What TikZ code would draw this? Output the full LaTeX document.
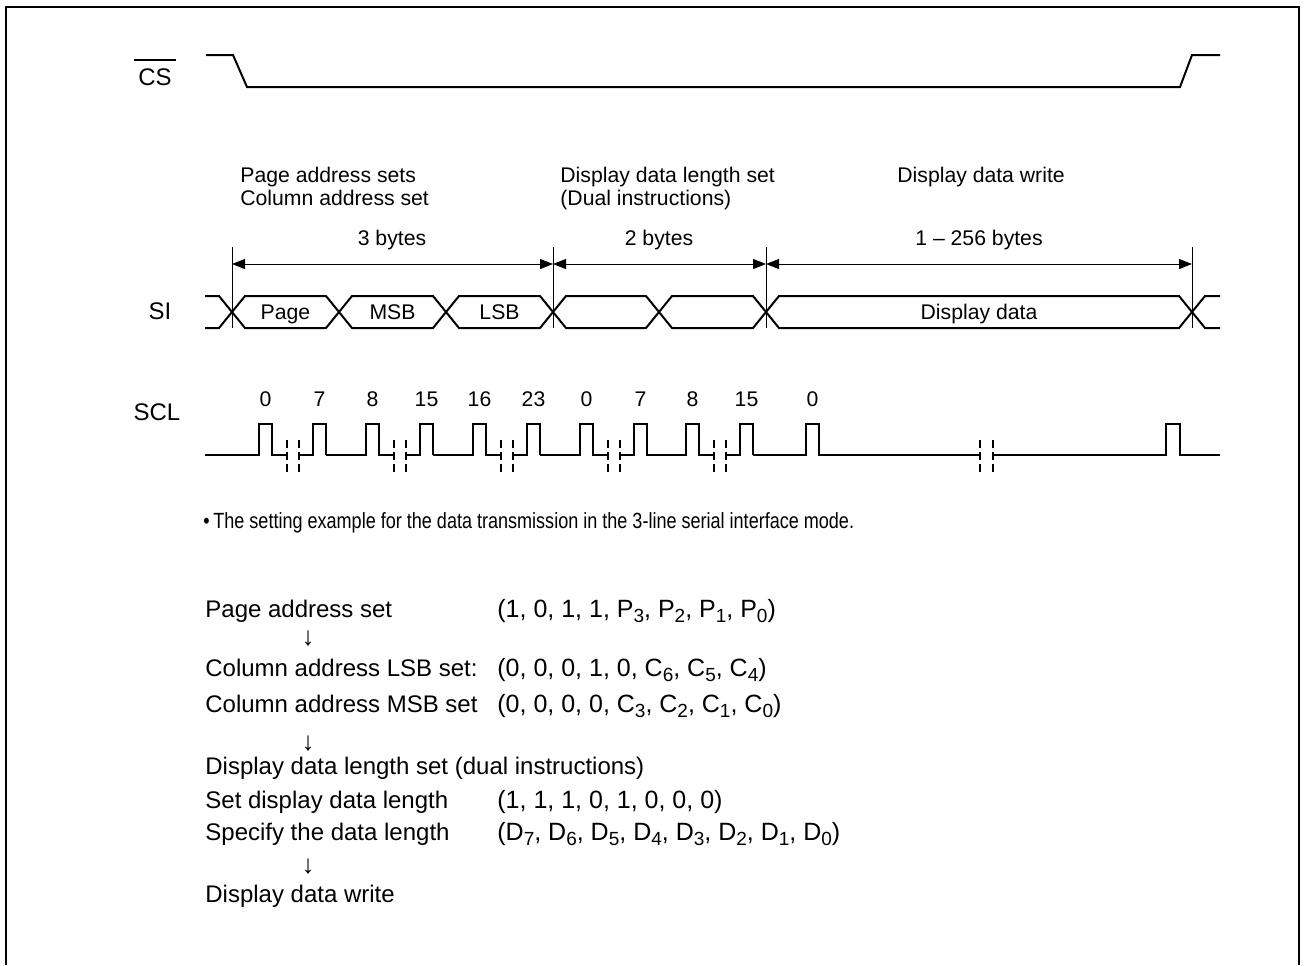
\documentclass[tikz,border=0pt]{standalone}
\usepackage{fontspec}
\setmainfont{Liberation Sans}
\newfontfamily\condfont[FakeStretch = 0.82]{Liberation Sans}
\newcommand{\sub}[1]{\raisebox{-0.45ex}{\fontsize{9.5}{9.5}\selectfont #1}}
\usetikzlibrary{arrows.meta}

\begin{document}
\begin{tikzpicture}[x = 0.5pt, y = -0.5pt, font = \fontsize{10.6}{13}\selectfont,
		sig/.style = {line width = 1pt},
		thinline/.style = {line width = 0.5pt},
		dim/.style = {line width = 0.5pt, {Triangle[length = 6.5pt, width = 5pt]}-{Triangle[length = 6.5pt, width = 5pt]}},
		brk/.style = {line width = 1pt, dash pattern = on 4pt off 2pt},
		txt/.style = {anchor = base west, inner sep = 0pt},
		lbl/.style = {anchor = base, inner sep = 0pt},
		big/.style = {font = \fontsize{12}{14}\selectfont},
		val/.style = {font = \fontsize{12.5}{14}\selectfont},
		down/.style = {anchor = base, inner sep = 0pt, font = \fontsize{13}{13}\selectfont}]
		\useasboundingbox (0, 0) rectangle (1305, 965);
		\draw[sig] (6, 965) -- (6, 7) -- (1299, 7) -- (1299, 965);
		\node[lbl, big] (cs) at (155, 85) {CS};
		\draw[thinline, line width = 0.7pt] ([xshift = -2pt, yshift = 4pt]cs.north west) -- ([xshift = 2pt, yshift = 4pt]cs.north east);
		\draw[sig] (206, 55) -- (233, 55) -- (247, 87) -- (1180, 87) -- (1192, 55) -- (1220, 55);
		\node[txt] (pa) at (240, 182) {Page address sets};
		\node[txt] (ca) at (240, 205) {Column address set};
		\node[txt] (dl) at (560, 182) {Display data length set};
		\node[txt] (di) at (560, 205) {(Dual instructions)};
		\node[txt] (dw) at (897, 182) {Display data write};
		\foreach \x/\n in {232/m1, 553/m2, 766/m3, 1192/m4} {
			\draw[thinline] (\x, 247) -- (\x, 328);
			\coordinate (\n) at (\x, 264);
		}
		\draw[dim] (m1) -- (m2);
		\draw[dim] (m2) -- (m3);
		\draw[dim] (m3) -- (m4);
		\node[lbl] (b3) at (392, 245) {3 bytes};
		\node[lbl] (b2) at (659, 245) {2 bytes};
		\node[lbl] (b256) at (979, 245) {1 -- 256 bytes};
		\node[lbl, big] (si) at (160, 319) {SI};
		\draw[sig] (205, 296) -- (219, 296) -- (232, 312) -- (219, 328) -- (205, 328);
		\foreach \a/\b in {232/339, 339/446, 446/553, 553/659, 659/766, 766/1192}
			\draw[sig] (\a, 312) -- (\a + 13, 296) -- (\b - 13, 296) -- (\b, 312) -- (\b - 13, 328) -- (\a + 13, 328) -- cycle;
		\draw[sig] (1220, 296) -- (1205, 296) -- (1192, 312) -- (1205, 328) -- (1220, 328);
		\node[lbl] (page) at (285.5, 319) {Page};
		\node[lbl] (msb) at (392.5, 319) {MSB};
		\node[lbl] (lsb) at (499.5, 319) {LSB};
		\node[lbl] (data) at (979, 319) {Display data};
		\node[lbl, big] (scl) at (157, 420) {SCL};
		\draw[sig] (205, 455) -- (219, 455);
		\foreach \b/\p/\q in {259/0/7, 366/8/15, 473/16/23, 580/0/7, 686/8/15} {
			\draw[sig] (\b - 40, 455) -- (\b, 455) -- (\b, 424) -- (\b + 13, 424) -- (\b + 13, 455) -- (\b + 28, 455);
			\draw[brk] (\b + 28, 440) -- (\b + 28, 472);
			\draw[brk] (\b + 40, 440) -- (\b + 40, 472);
			\draw[sig] (\b + 40, 455) -- (\b + 54, 455) -- (\b + 54, 424) -- (\b + 67, 424) -- (\b + 67, 455);
			\node[lbl] (c\b) at (\b + 6.5, 406) {\p};
			\node[lbl] (d\b) at (\b + 60.5, 406) {\q};
		}
		\draw[sig] (753, 455) -- (806, 455) -- (806, 424) -- (819, 424) -- (819, 455) -- (980, 455);
		\node[lbl] (c806) at (812.5, 406) {0};
		\draw[brk] (980, 440) -- (980, 472);
		\draw[brk] (993, 440) -- (993, 472);
		\draw[sig] (993, 455) -- (1166, 455) -- (1166, 424) -- (1180, 424) -- (1180, 455) -- (1220, 455);
		\node[txt, font = \condfont\fontsize{11}{13}\selectfont] (note) at (203, 528) {\textbullet\,The setting example for the data transmission in the 3-line serial interface mode.};
		\node[txt, big] (r1) at (205, 617) {Page address set};
		\node[txt, val] (v1) at (497, 617) {(1, 0, 1, 1, P\sub{3}, P\sub{2}, P\sub{1}, P\sub{0})};
		\node[down] (a1) at (308, 645) {↓};
		\node[txt, big] (r2) at (205, 676) {Column address LSB set:};
		\node[txt, val] (v2) at (497, 676) {(0, 0, 0, 1, 0, C\sub{6}, C\sub{5}, C\sub{4})};
		\node[txt, big] (r3) at (205, 712) {Column address MSB set};
		\node[txt, val] (v3) at (497, 712) {(0, 0, 0, 0, C\sub{3}, C\sub{2}, C\sub{1}, C\sub{0})};
		\node[down] (a2) at (308, 750) {↓};
		\node[txt, big] (r4) at (205, 774) {Display data length set (dual instructions)};
		\node[txt, big] (r5) at (205, 808) {Set display data length};
		\node[txt, val] (v5) at (497, 808) {(1, 1, 1, 0, 1, 0, 0, 0)};
		\node[txt, big] (r6) at (205, 840) {Specify the data length};
		\node[txt, val] (v6) at (497, 840) {(D\sub{7}, D\sub{6}, D\sub{5}, D\sub{4}, D\sub{3}, D\sub{2}, D\sub{1}, D\sub{0})};
		\node[down] (a3) at (308, 873) {↓};
		\node[txt, big] (r7) at (205, 902) {Display data write};
	\end{tikzpicture}
\end{document}
